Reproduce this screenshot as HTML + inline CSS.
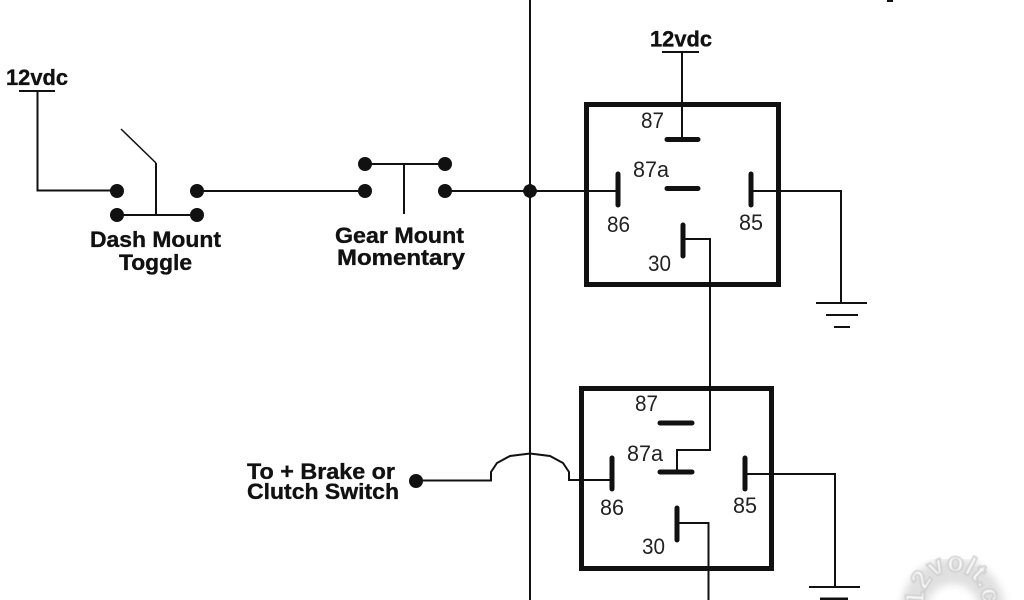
<!DOCTYPE html>
<html>
<head>
<meta charset="utf-8">
<style>
html,body{margin:0;padding:0;background:#fff;width:1024px;height:600px;overflow:hidden}
svg{display:block}
text{font-family:"Liberation Sans",sans-serif;fill:#111}
.b{font-weight:bold;font-size:22px;stroke:#111;stroke-width:.35px}
.n{font-size:22px;fill:#222}
</style>
</head>
<body>
<svg width="1024" height="600" viewBox="0 0 1024 600" xmlns="http://www.w3.org/2000/svg">
<defs>
<filter id="f" x="-30%" y="-30%" width="160%" height="160%"><feGaussianBlur stdDeviation="4"/></filter>
<filter id="g" x="-10%" y="-10%" width="120%" height="120%"><feGaussianBlur stdDeviation=".8"/></filter>
<path id="arc" d="M 924.600 606 A 29 29 0 1 1 981.400 606"/>
</defs>

<!-- watermark -->
<path d="M 914 610 A 39 39 0 0 1 992 610" fill="none" stroke="#e0e0e0" stroke-width="26" filter="url(#f)"/>
<text font-size="27" font-weight="bold" style="fill:#fff;stroke:#c8c8c8;stroke-width:1.5" filter="url(#g)"><textPath href="#arc">12volt.c</textPath></text>

<!-- top-edge speck -->
<rect x="887" y="0" width="6" height="2" fill="#111"/>

<g fill="none" stroke="#111" stroke-width="2">
  <!-- left 12v and toggle -->
  <path d="M19 91H55"/>
  <path d="M37.500 91V190.500H117"/>
  <path d="M117 215H197"/>
  <path d="M156 215V163"/>
  <path d="M156 163L121 129" stroke-width="1.5"/>
  <path d="M197 191H365"/>
  <!-- momentary -->
  <path d="M365 164H445"/>
  <path d="M404 164V214"/>
  <path d="M445 191H618"/>
  <!-- main vertical -->
  <path d="M530 0V600"/>
  <!-- top relay wiring -->
  <path d="M662 52H699"/>
  <path d="M682 52V139"/>
  <path d="M751 191H841V303"/>
  <path d="M816 303H867"/>
  <path d="M826 315H858"/>
  <path d="M834 327H850"/>
  <path d="M683 239H710V450H677V472"/>
  <!-- bottom relay wiring -->
  <path d="M416 480.500H491V472L497 463L510 456L530 453.500L550 456L563 463L569 472V480H612"/>
  <path d="M745 474H835V587"/>
  <path d="M809 587H860"/>
  <path d="M677 523H708.500V600"/>
</g>
<path d="M820 599.500H848" stroke="#111" stroke-width="4"/>

<!-- relay boxes -->
<rect x="586.500" y="104.500" width="192" height="180" fill="none" stroke="#111" stroke-width="5"/>
<rect x="581.500" y="388.500" width="190" height="180" fill="none" stroke="#111" stroke-width="5"/>

<!-- pins -->
<g stroke="#111" stroke-width="5" stroke-linecap="round" fill="none">
  <path d="M667 139.500H698"/>
  <path d="M667 188.500H698"/>
  <path d="M618 174V205"/>
  <path d="M751 174V205"/>
  <path d="M683 225V256"/>
  <path d="M660 423H692"/>
  <path d="M660 472H692"/>
  <path d="M612 458V489"/>
  <path d="M745 458V489"/>
  <path d="M677 508V540"/>
</g>

<!-- terminals -->
<g fill="#111">
  <circle cx="117" cy="191" r="7"/>
  <circle cx="197" cy="191" r="7"/>
  <circle cx="117" cy="215" r="7"/>
  <circle cx="197" cy="215" r="7"/>
  <circle cx="365" cy="164" r="7"/>
  <circle cx="445" cy="164" r="7"/>
  <circle cx="365" cy="191" r="7"/>
  <circle cx="445" cy="191" r="7"/>
  <path d="M530 183.500L535 186L537.500 191L535 196L530 198.500L525 196L522.500 191L525 186Z"/>
  <circle cx="416" cy="481" r="7"/>
</g>

<!-- bold labels -->
<text class="b" x="6" y="85" textLength="62" lengthAdjust="spacingAndGlyphs">12vdc</text>
<text class="b" x="650" y="46.500" textLength="62" lengthAdjust="spacingAndGlyphs">12vdc</text>
<text class="b" x="90" y="247" textLength="131" lengthAdjust="spacingAndGlyphs">Dash Mount</text>
<text class="b" x="119" y="270" textLength="73" lengthAdjust="spacingAndGlyphs">Toggle</text>
<text class="b" x="335" y="243" textLength="129" lengthAdjust="spacingAndGlyphs">Gear Mount</text>
<text class="b" x="337" y="265" textLength="128" lengthAdjust="spacingAndGlyphs">Momentary</text>
<text class="b" x="247" y="479" textLength="148" lengthAdjust="spacingAndGlyphs">To + Brake or</text>
<text class="b" x="247" y="499" textLength="152" lengthAdjust="spacingAndGlyphs">Clutch Switch</text>

<!-- pin numbers -->
<text class="n" x="641" y="128" textLength="23" lengthAdjust="spacingAndGlyphs">87</text>
<text class="n" x="633" y="177" textLength="36" lengthAdjust="spacingAndGlyphs">87a</text>
<text class="n" x="607" y="232" textLength="23" lengthAdjust="spacingAndGlyphs">86</text>
<text class="n" x="739" y="230" textLength="24" lengthAdjust="spacingAndGlyphs">85</text>
<text class="n" x="648" y="271" textLength="23" lengthAdjust="spacingAndGlyphs">30</text>
<text class="n" x="635" y="411" textLength="23" lengthAdjust="spacingAndGlyphs">87</text>
<text class="n" x="627" y="461" textLength="36" lengthAdjust="spacingAndGlyphs">87a</text>
<text class="n" x="600" y="515" textLength="24" lengthAdjust="spacingAndGlyphs">86</text>
<text class="n" x="733" y="513" textLength="24" lengthAdjust="spacingAndGlyphs">85</text>
<text class="n" x="642" y="554" textLength="23" lengthAdjust="spacingAndGlyphs">30</text>
</svg>
</body>
</html>
